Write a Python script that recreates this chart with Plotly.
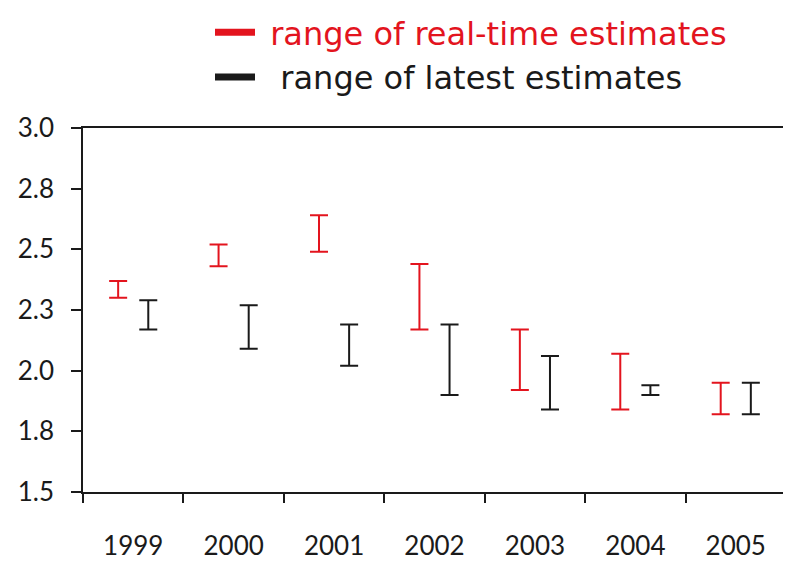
import plotly.graph_objects as go

years = ['1999', '2000', '2001', '2002', '2003', '2004', '2005']
rt_low = [2.30, 2.43, 2.49, 2.17, 1.92, 1.84, 1.82]
rt_high = [2.37, 2.52, 2.64, 2.44, 2.17, 2.07, 1.95]
lt_low = [2.17, 2.09, 2.02, 1.90, 1.84, 1.90, 1.82]
lt_high = [2.29, 2.27, 2.19, 2.19, 2.06, 1.94, 1.95]
ytick_vals = [1.5, 1.75, 2.0, 2.25, 2.5, 2.75, 3.0]
ytick_text = ['1.5', '1.8', '2.0', '2.3', '2.5', '2.8', '3.0']

RED = '#e3141e'
BLACK = '#1a1a1a'
FONT = 'Lato'
LEG_FONT = 'DejaVu Sans'


def range_trace(lo, hi, offset, color):
    mid = [(a + b) / 2 for a, b in zip(lo, hi)]
    return go.Scatter(
        x=[i + offset for i in range(len(years))],
        y=mid,
        mode='markers',
        marker=dict(size=1, opacity=0),
        error_y=dict(type='data', symmetric=False,
                     array=[h - m for h, m in zip(hi, mid)],
                     arrayminus=[m - l for m, l in zip(mid, lo)],
                     color=color, thickness=2, width=9),
        showlegend=False, hoverinfo='skip')


fig = go.Figure()
fig.add_trace(range_trace(rt_low, rt_high, -0.15, RED))
fig.add_trace(range_trace(lt_low, lt_high, 0.15, BLACK))

# legend entries
fig.add_trace(go.Scatter(x=[None], y=[None], mode='lines',
                         line=dict(color=RED, width=7),
                         name='<span style="color:%s"> range of real-time estimates</span>' % RED))
fig.add_trace(go.Scatter(x=[None], y=[None], mode='lines',
                         line=dict(color=BLACK, width=7),
                         name='  range of latest estimates'))

# page body has an 8px margin, so the figure is sized to fit the window
W, H = 783, 555
L, T, B = 75, 120, 71
fig.update_layout(
    width=W, height=H,
    margin=dict(l=L, r=0, t=T, b=B, autoexpand=False),
    paper_bgcolor='white', plot_bgcolor='white',
    font=dict(family=FONT, color=BLACK),
    showlegend=True,
    legend=dict(x=(202 - L) / (W - L), y=(H - B + 3) / (H - T - B),
                xanchor='left', yanchor='top',
                font=dict(size=32, family=LEG_FONT, color=BLACK),
                bgcolor='rgba(0,0,0,0)', itemwidth=40, tracegroupgap=0),
    xaxis=dict(range=[-0.5, 6.55], tickmode='array',
               tickvals=list(range(len(years))), ticktext=years,
               ticks='', showgrid=False, zeroline=False, automargin=False,
               showline=True, linecolor=BLACK, linewidth=1.5, mirror=True,
               tickfont=dict(size=26, family=FONT, color=BLACK),
               ticklabelstandoff=30,
               minor=dict(tickmode='array',
                          tickvals=[i - 0.5 for i in range(len(years))],
                          ticks='outside', ticklen=9, tickwidth=1.5, tickcolor=BLACK)),
    yaxis=dict(range=[1.5, 3.0], tickmode='array', tickvals=ytick_vals,
               ticktext=ytick_text, ticks='outside', ticklen=10, tickwidth=1.5,
               tickcolor=BLACK, showgrid=False, zeroline=False, automargin=False,
               showline=True, linecolor=BLACK, linewidth=1.5,
               tickfont=dict(size=26, family=FONT, color=BLACK),
               ticklabelstandoff=12),
)

fig.write_html('out.html')
